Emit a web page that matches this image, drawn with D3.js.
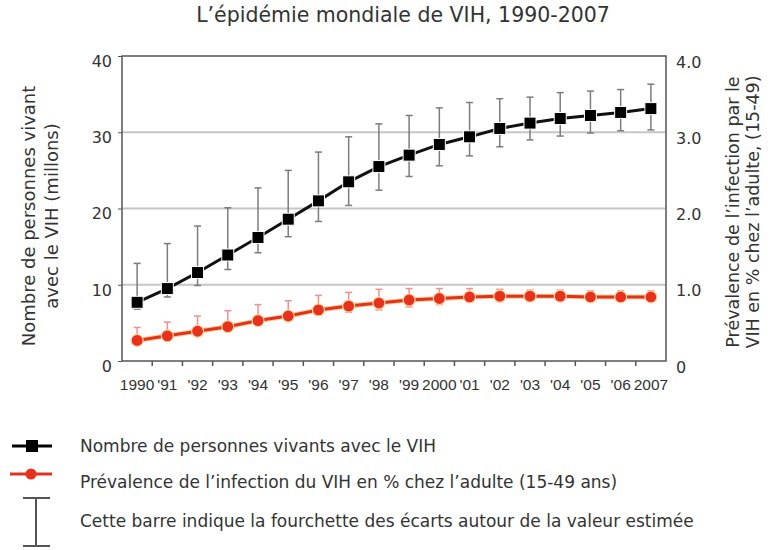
<!DOCTYPE html>
<html>
<head>
<meta charset="utf-8">
<script src="https://cdn.jsdelivr.net/npm/d3@7"></script>
<style>
  body { margin: 0; background: #fff; }
  svg text { fill: #333; }
</style>
</head>
<body>
<div id="chart"></div>
<script>
// data
const years = ["1990", "'91", "'92", "'93", "'94", "'95", "'96", "'97", "'98", "'99",
               "2000", "'01", "'02", "'03", "'04", "'05", "'06", "2007"];
const people = [7.7, 9.5, 11.6, 13.9, 16.2, 18.6, 21.0, 23.5, 25.5, 27.0,
                28.4, 29.4, 30.5, 31.2, 31.8, 32.2, 32.6, 33.1];
const peopleLow = [6.8, 8.4, 9.9, 12.0, 14.2, 16.3, 18.3, 20.4, 22.4, 24.2,
                   25.6, 26.9, 28.1, 29.0, 29.5, 29.9, 30.2, 30.3];
const peopleHigh = [12.8, 15.4, 17.7, 20.1, 22.7, 25.0, 27.4, 29.4, 31.1, 32.2,
                    33.2, 33.9, 34.4, 34.6, 35.2, 35.4, 35.6, 36.3];
const prev = [0.27, 0.33, 0.39, 0.45, 0.53, 0.59, 0.67, 0.72, 0.76, 0.80,
              0.82, 0.84, 0.85, 0.85, 0.85, 0.84, 0.84, 0.84];
const prevLow = [0.22, 0.28, 0.34, 0.40, 0.47, 0.53, 0.60, 0.64, 0.67, 0.71,
                 0.74, 0.77, 0.78, 0.79, 0.79, 0.79, 0.79, 0.79];
const prevHigh = [0.44, 0.51, 0.59, 0.66, 0.74, 0.79, 0.86, 0.90, 0.94, 0.95,
                  0.95, 0.95, 0.94, 0.93, 0.93, 0.92, 0.92, 0.92];
const leftTicks = [0, 10, 20, 30, 40];
const rightTicks = [0, 1, 2, 3, 4];

const width = 777, height = 550;
const mLeft = 122, mRight = 666, mTop = 56, mBottom = 361;
const font = "'DejaVu Sans', sans-serif";

const svg = d3.select("#chart").append("svg")
  .attr("width", width).attr("height", height)
  .style("font-family", font);

const x = d3.scaleBand().domain(years).range([mLeft, mRight]);
const yL = d3.scaleLinear().domain([0, 40]).range([mBottom, mTop]);
const yR = d3.scaleLinear().domain([0, 4]).range([mBottom, mTop]);
const cx = d => x(d) + x.bandwidth() / 2;

// title
svg.append("text")
  .attr("x", 403).attr("y", 22)
  .attr("text-anchor", "middle")
  .style("font-size", "20.5px")
  .text("L’épidémie mondiale de VIH, 1990-2007");

// gridlines
svg.append("g")
  .selectAll("line")
  .data([10, 20, 30])
  .join("line")
    .attr("x1", mLeft).attr("x2", mRight)
    .attr("y1", d => yL(d)).attr("y2", d => yL(d))
    .attr("stroke", "#c6c6c6").attr("stroke-width", 2);

// frame
svg.append("rect")
  .attr("x", mLeft).attr("y", mTop)
  .attr("width", mRight - mLeft).attr("height", mBottom - mTop)
  .attr("fill", "none").attr("stroke", "#555").attr("stroke-width", 1.5);

// left axis
const gl = svg.append("g")
  .attr("transform", `translate(${mLeft},0)`)
  .call(d3.axisLeft(yL).tickValues(leftTicks).tickSize(4).tickPadding(8).tickFormat(d3.format("d")));
gl.select(".domain").remove();
gl.selectAll(".tick line").attr("stroke", "#555");
gl.selectAll(".tick text").style("font-size", "16px").style("font-family", font)
  .attr("fill", "#333").attr("dy", "0.65em").attr("x", -10);

// right axis
const gr = svg.append("g")
  .attr("transform", `translate(${mRight},0)`)
  .call(d3.axisRight(yR).tickValues(rightTicks).tickSize(0).tickPadding(10)
    .tickFormat(d => d === 0 ? "0" : d3.format(".1f")(d)));
gr.select(".domain").remove();
gr.selectAll(".tick text").style("font-size", "16px").style("font-family", font)
  .attr("fill", "#333").attr("dy", "0.7em");

// bottom axis: ticks between the years
svg.append("g")
  .selectAll("line")
  .data(years.slice(1))
  .join("line")
    .attr("x1", d => x(d)).attr("x2", d => x(d))
    .attr("y1", mBottom).attr("y2", mBottom + 5)
    .attr("stroke", "#555").attr("stroke-width", 1.5);

svg.append("g")
  .selectAll("text")
  .data(years)
  .join("text")
    .attr("x", d => cx(d))
    .attr("y", 390)
    .attr("text-anchor", "middle")
    .style("font-family", "'Liberation Sans Narrow', 'Liberation Sans', sans-serif")
    .style("font-stretch", "condensed")
    .style("font-size", "15.5px")
    .text(d => d);

// axis titles
svg.append("text")
  .attr("transform", "translate(35,216) rotate(-90)")
  .attr("text-anchor", "middle")
  .style("font-size", "18px")
  .selectAll("tspan")
  .data(["Nombre de personnes vivant", "avec le VIH (millons)"])
  .join("tspan")
    .attr("x", 0).attr("dy", (d, i) => i === 0 ? 0 : 23)
    .text(d => d);

svg.append("text")
  .attr("transform", "translate(739,212) rotate(-90)")
  .attr("text-anchor", "middle")
  .style("font-size", "17.5px")
  .selectAll("tspan")
  .data(["Prévalence de l’infection par le", "VIH en % chez l’adulte, (15-49)"])
  .join("tspan")
    .attr("x", 0).attr("dy", (d, i) => i === 0 ? 0 : 20)
    .text(d => d);

// error bars
function errorBars(lo, hi, scale, color) {
  const g = svg.append("g").attr("stroke", color).attr("stroke-width", 1.5);
  g.selectAll(".v").data(years).join("line")
    .attr("x1", d => cx(d)).attr("x2", d => cx(d))
    .attr("y1", (d, i) => scale(lo[i])).attr("y2", (d, i) => scale(hi[i]));
  g.selectAll(".t").data(years).join("line")
    .attr("x1", d => cx(d) - 3.5).attr("x2", d => cx(d) + 3.5)
    .attr("y1", (d, i) => scale(hi[i])).attr("y2", (d, i) => scale(hi[i]));
  g.selectAll(".b").data(years).join("line")
    .attr("x1", d => cx(d) - 3.5).attr("x2", d => cx(d) + 3.5)
    .attr("y1", (d, i) => scale(lo[i])).attr("y2", (d, i) => scale(lo[i]));
}
errorBars(peopleLow, peopleHigh, yL, "#7c7c7c");
errorBars(prevLow, prevHigh, yR, "#f09090");

// black series
const lineL = d3.line().x((d, i) => cx(years[i])).y(d => yL(d));
svg.append("path").datum(people)
  .attr("d", lineL).attr("fill", "none")
  .attr("stroke", "#111").attr("stroke-width", 3);
svg.append("g").selectAll("rect").data(people).join("rect")
  .attr("x", (d, i) => cx(years[i]) - 6).attr("y", d => yL(d) - 6)
  .attr("width", 12).attr("height", 12)
  .attr("fill", "#000").attr("stroke", "#fff").attr("stroke-width", 1);

// red series
const lineR = d3.line().x((d, i) => cx(years[i])).y(d => yR(d));
svg.append("path").datum(prev)
  .attr("d", lineR).attr("fill", "none")
  .attr("stroke", "#f5d090").attr("stroke-width", 5);
svg.append("path").datum(prev)
  .attr("d", lineR).attr("fill", "none")
  .attr("stroke", "#e2321f").attr("stroke-width", 3);
svg.append("g").selectAll("circle").data(prev).join("circle")
  .attr("cx", (d, i) => cx(years[i])).attr("cy", d => yR(d))
  .attr("r", 6)
  .attr("fill", "#e8301c").attr("stroke", "#f7d6a0").attr("stroke-width", 1.2);

// legend
const lg = svg.append("g");
lg.append("line").attr("x1", 12).attr("x2", 52).attr("y1", 446).attr("y2", 446)
  .attr("stroke", "#000").attr("stroke-width", 3);
lg.append("rect").attr("x", 26).attr("y", 440).attr("width", 12).attr("height", 12).attr("fill", "#000");
lg.append("line").attr("x1", 10).attr("x2", 52).attr("y1", 474).attr("y2", 474)
  .attr("stroke", "#e2321f").attr("stroke-width", 3);
lg.append("circle").attr("cx", 31).attr("cy", 474).attr("r", 5.5).attr("fill", "#e8301c");
lg.append("line").attr("x1", 36).attr("x2", 36).attr("y1", 498).attr("y2", 546)
  .attr("stroke", "#555").attr("stroke-width", 2);
lg.append("line").attr("x1", 23).attr("x2", 50).attr("y1", 498).attr("y2", 498)
  .attr("stroke", "#555").attr("stroke-width", 2);
lg.append("line").attr("x1", 23).attr("x2", 50).attr("y1", 546).attr("y2", 546)
  .attr("stroke", "#555").attr("stroke-width", 2);

const legendText = [
  "Nombre de personnes vivants avec le VIH",
  "Prévalence de l’infection du VIH en % chez l’adulte (15-49 ans)",
  "Cette barre indique la fourchette des écarts autour de la valeur estimée"
];
lg.selectAll("text").data(legendText).join("text")
  .attr("x", 80).attr("y", (d, i) => [452, 488, 527][i])
  .style("font-size", "17px")
  .text(d => d);
</script>
</body>
</html>
